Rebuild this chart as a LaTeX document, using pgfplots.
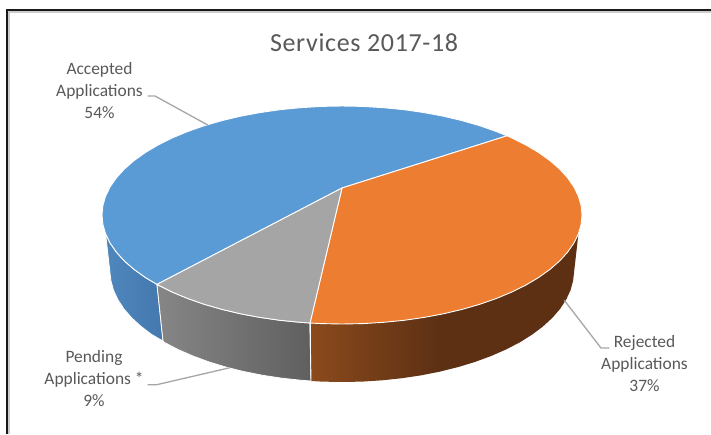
\documentclass[border=0pt]{standalone}
\usepackage{pgfplots}
\pgfplotsset{compat=1.18}
\usepackage{fontspec}
\setmainfont{Carlito}
\newfontfamily\titlefont[LetterSpace=2.5]{Carlito}
\definecolor{sliceblue}{HTML}{5B9BD5}
\definecolor{sliceorange}{HTML}{ED7D31}
\definecolor{slicegray}{HTML}{A5A5A5}
\definecolor{labeltext}{HTML}{595959}
\definecolor{leader}{HTML}{A6A6A6}
\definecolor{wallblueA}{HTML}{4F87BC}
\definecolor{wallblueB}{HTML}{4478AE}
\definecolor{wallgrayA}{HTML}{868686}
\definecolor{wallgrayB}{HTML}{5F5F5F}
\definecolor{wallorangeA}{HTML}{8A4A1C}
\definecolor{wallorangeB}{HTML}{5D3014}
\begin{document}
\begin{tikzpicture}
\begin{axis}[
  scale only axis, width=711pt, height=434pt,
  xmin=0, xmax=711, ymin=0, ymax=434, y dir=reverse,
  hide axis, clip=true]
% page background and frame
\addplot[draw=none, fill=white] coordinates {(0,0)(711,0)(711,434)(0,434)} --cycle;
\addplot[draw=black!20, line width=2pt] coordinates {(9,434)(9,12)(711,12)};
\addplot[draw=black!90, line width=2pt] coordinates {(7,434)(7,10)(711,10)};
% outer wall of the accepted slice
\addplot[draw=white, line width=0.8pt, left color=wallblueA, right color=wallblueB] coordinates {
 (157,284.4)(145.4,277.5)(134.2,269.5)(124.5,261.1)(116.5,252.3)(110.2,243.2)(105.6,233.9)
 (110.9,280.7)(113.5,290.3)(117.9,299.7)(124,309)(131.7,317.9)(141.1,326.5)(152,334.7)(163,341)} --cycle;
% outer wall of the pending slice
\addplot[draw=white, line width=0.8pt, left color=wallgrayA, right color=wallgrayB] coordinates {
 (310,323)(300.3,322.3)(279.9,320.3)(259.9,317.4)(240.6,313.8)(222,309.4)(204.3,304.3)(187.7,298.5)(172.3,292.1)(158.2,285.1)(157,284.4)
 (163,341)(164.3,342.4)(178,349.5)(192.9,356)(208.9,361.9)(226,367.1)(244,371.6)(262.7,375.3)(282,378.2)(301.7,380.3)(311,381)} --cycle;
% outer wall of the rejected slice: flat dark part beside a lit gradient
\addplot[draw=none, fill=wallorangeB] coordinates {
 (438,315)(443.4,313.8)(462,309.4)(479.7,304.3)(496.3,298.5)(511.7,292.1)(525.8,285.1)(538.6,277.5)(549.8,269.5)(559.5,261.1)(567.5,252.3)(573.8,243.2)(578.4,233.9)
 (573.1,280.7)(570.5,290.3)(566.1,299.7)(560,309)(552.3,317.9)(542.9,326.5)(532,334.7)(519.7,342.4)(506,349.5)(491.1,356)(475.1,361.9)(458,367.1)(440,371.6)(438,372)} --cycle;
\addplot[draw=none, left color=wallorangeA, right color=wallorangeB] coordinates {
 (311,323)(321.1,323.6)(342,324)(362.9,323.6)(383.7,322.3)(404.1,320.3)(424.1,317.4)(439,314.8)
 (439,371.8)(421.3,375.3)(402,378.2)(382.3,380.3)(362.2,381.6)(342,382)(321.8,381.6)(311,381)} --cycle;
\addplot[draw=white, line width=0.9pt] coordinates {(310,323)(311,381)};
% top faces of the three slices
\addplot[draw=white, line width=0.9pt, fill=sliceblue] coordinates {
 (342,188)(157,284.4)(145.4,277.5)(134.2,269.5)(124.5,261.1)(116.5,252.3)(110.2,243.2)(105.6,233.9)(102.9,224.5)(102,215)(102.9,205.5)(105.6,196.1)(110.2,186.8)(116.5,177.7)(124.5,168.9)(134.2,160.5)(145.4,152.5)(158.2,144.9)(172.3,137.9)(187.7,131.5)(204.3,125.7)(222,120.6)(240.6,116.2)(259.9,112.6)(279.9,109.7)(300.3,107.7)(321.1,106.4)(342,106)(362.9,106.4)(383.7,107.7)(404.1,109.7)(424.1,112.6)(443.4,116.2)(462,120.6)(479.7,125.7)(496.3,131.5)(507,135.8)} --cycle;
\addplot[draw=white, line width=0.9pt, fill=sliceorange] coordinates {
 (342,188)(507,135.8)(511.7,137.9)(525.8,144.9)(538.6,152.5)(549.8,160.5)(559.5,168.9)(567.5,177.7)(573.8,186.8)(578.4,196.1)(581.1,205.5)(582,215)(581.1,224.5)(578.4,233.9)(573.8,243.2)(567.5,252.3)(559.5,261.1)(549.8,269.5)(538.6,277.5)(525.8,285.1)(511.7,292.1)(496.3,298.5)(479.7,304.3)(462,309.4)(443.4,313.8)(424.1,317.4)(404.1,320.3)(383.7,322.3)(362.9,323.6)(342,324)(321.1,323.6)(310,323)} --cycle;
\addplot[draw=white, line width=0.9pt, fill=slicegray] coordinates {
 (342,188)(310,323)(300.3,322.3)(279.9,320.3)(259.9,317.4)(240.6,313.8)(222,309.4)(204.3,304.3)(187.7,298.5)(172.3,292.1)(158.2,285.1)(157,284.4)} --cycle;
% leader lines
\addplot[draw=leader, line width=1.3pt] coordinates {(207.7,125)(155,96)(147.7,96)};
\addplot[draw=leader, line width=1.3pt] coordinates {(230,367.7)(156.7,384.7)(147.7,384.7)};
\addplot[draw=leader, line width=1.3pt] coordinates {(564.3,300.3)(601,348)(609.3,348)};
% title and data labels
\node[text=labeltext, font=\titlefont\fontsize{26}{28}\selectfont, anchor=center] at (axis cs:364,43) {Services 2017-18};
\node[text=labeltext, font=\fontsize{17.4}{22}\selectfont, align=center, anchor=center] at (axis cs:99.5,91) {Accepted\\Applications\\54\%};
\node[text=labeltext, font=\fontsize{17.4}{22}\selectfont, align=center, anchor=center] at (axis cs:94,379) {Pending\\Applications *\\9\%};
\node[text=labeltext, font=\fontsize{17.4}{22}\selectfont, align=center, anchor=center] at (axis cs:644.5,364) {Rejected\\Applications\\37\%};
\end{axis}
\end{tikzpicture}
\end{document}
